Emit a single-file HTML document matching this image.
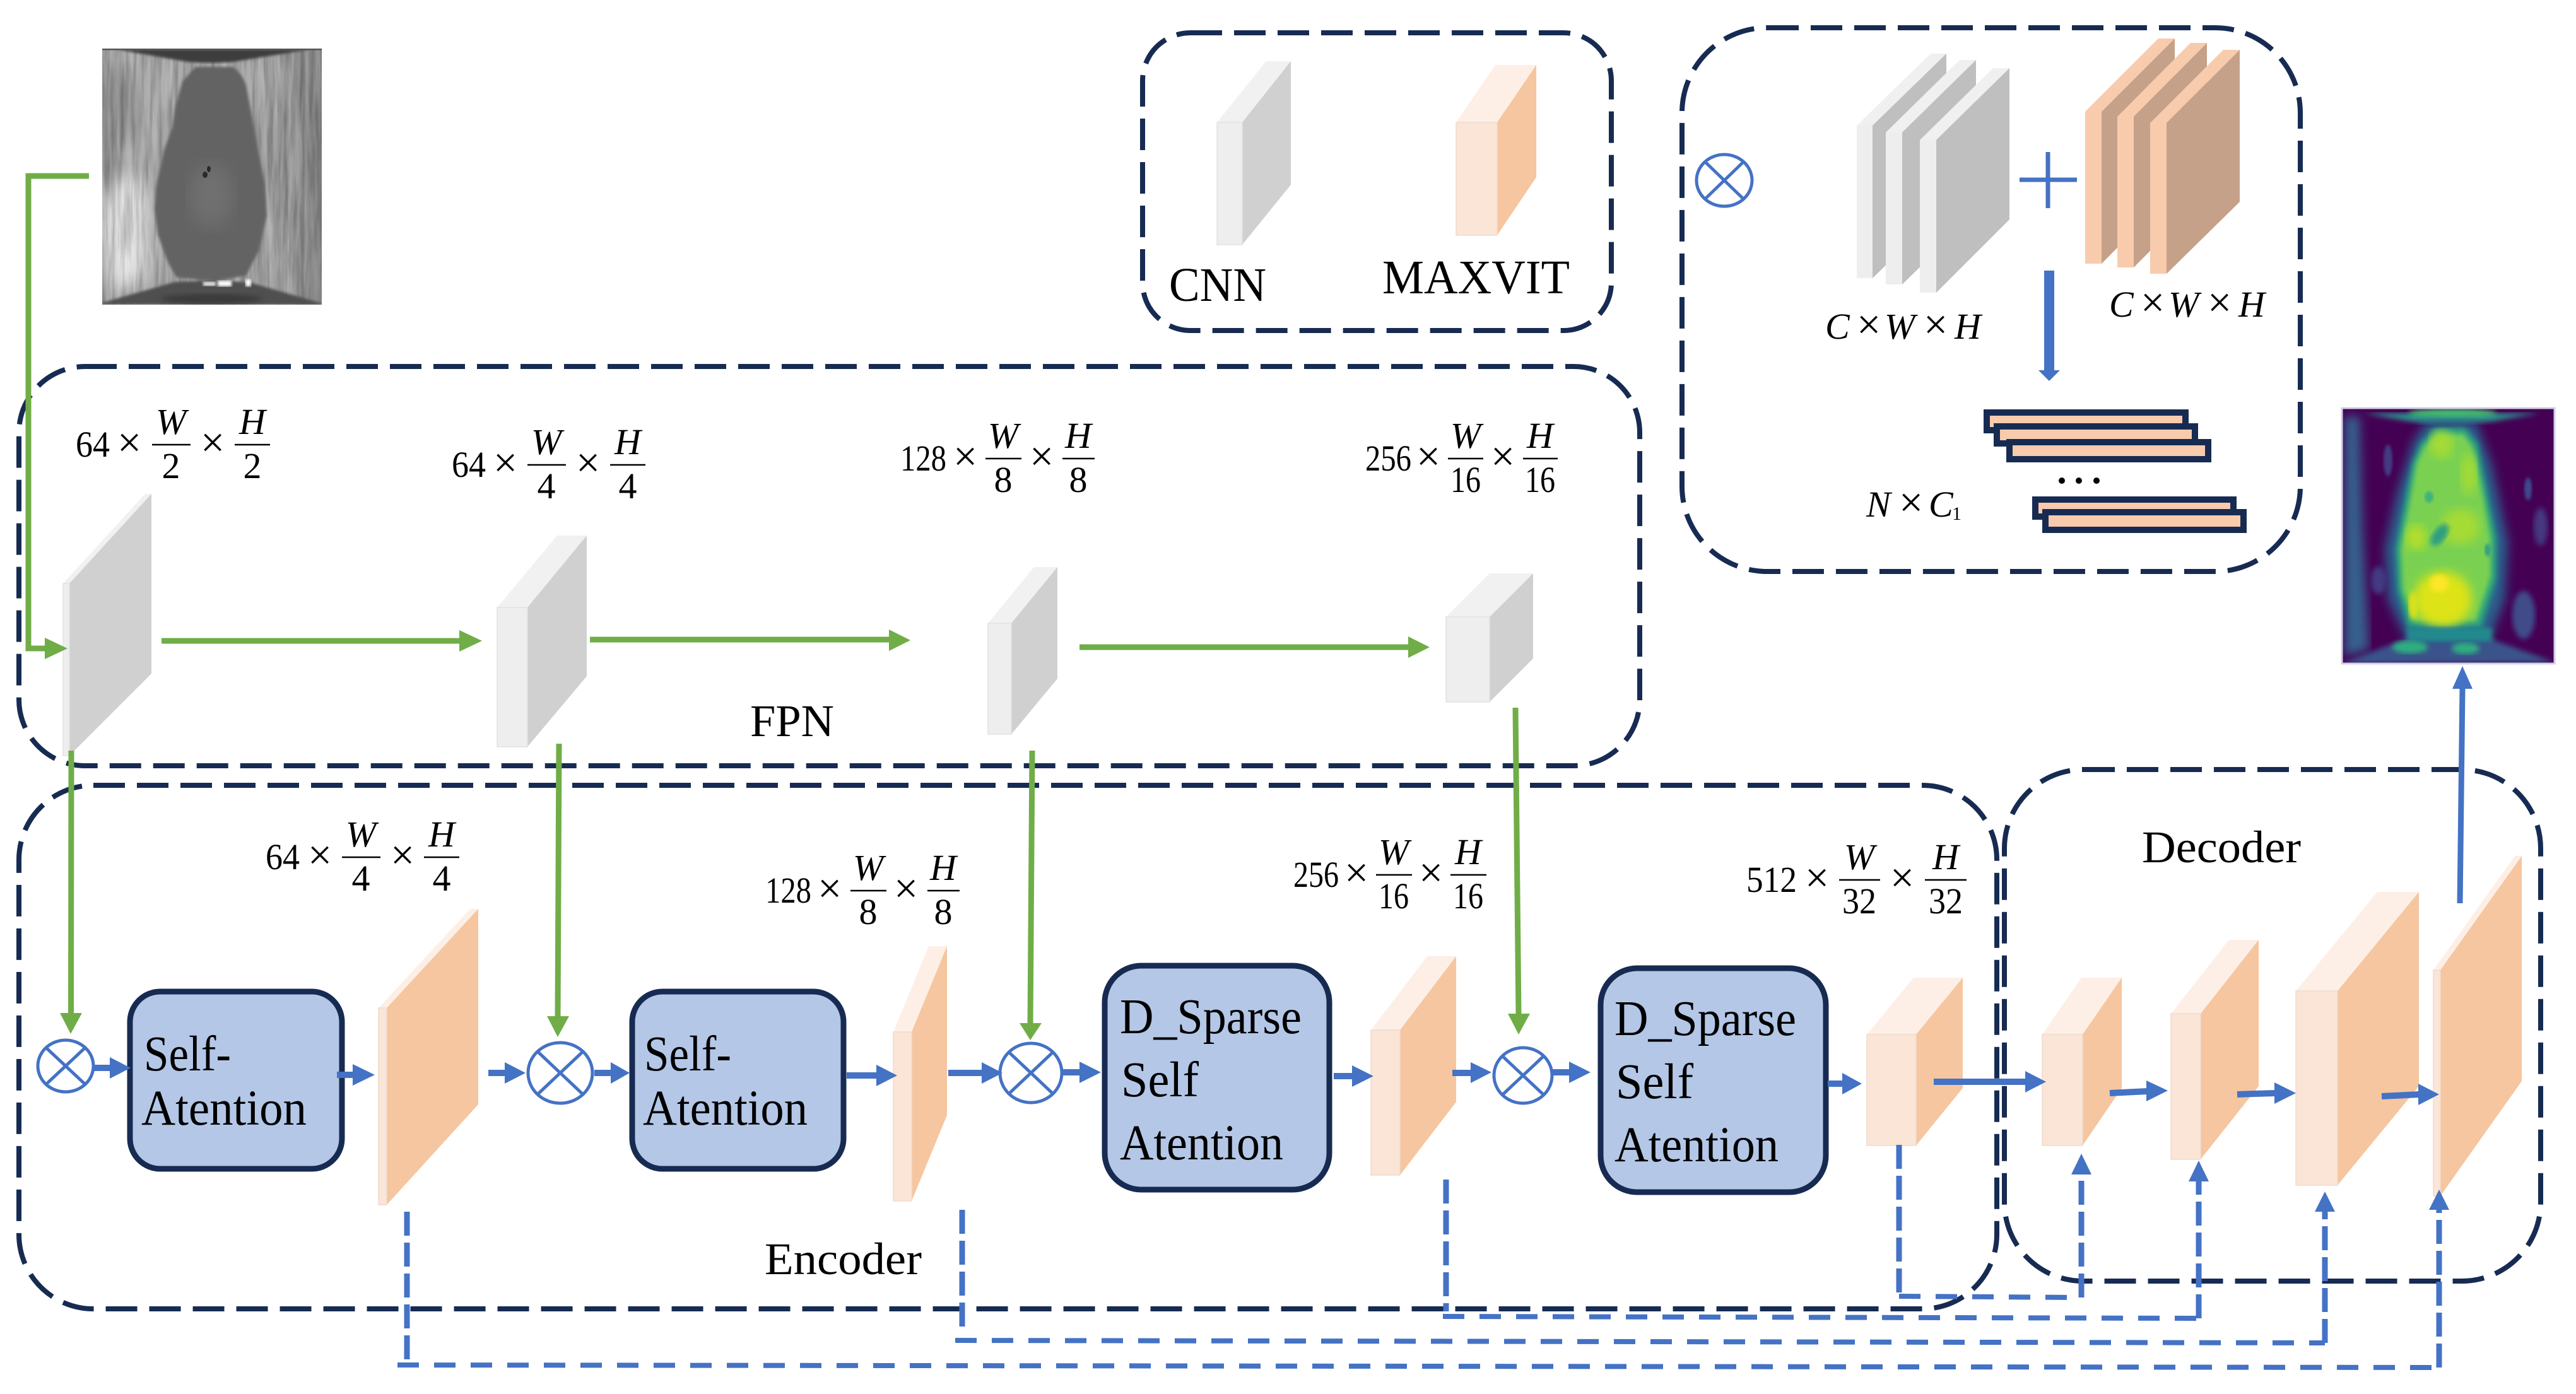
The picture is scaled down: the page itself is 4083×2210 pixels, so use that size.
<!DOCTYPE html>
<html><head><meta charset="utf-8"><style>
html,body{margin:0;padding:0;background:#fff}
svg{display:block}
text{font-family:"Liberation Serif",serif;fill:#000}
.d{fill:none;stroke:#172b52;stroke-width:8;stroke-dasharray:50 19}
.g{fill:none;stroke:#70ad47;stroke-width:9}
.gh{fill:#70ad47}
.b{fill:none;stroke:#4472c4;stroke-width:10}
.bh{fill:#4472c4}
.bv{fill:none;stroke:#4472c4;stroke-width:9;stroke-dasharray:38 11}
.bz{fill:none;stroke:#4472c4;stroke-width:8;stroke-dasharray:34 24}
.x{fill:#fff;stroke:#4472c4;stroke-width:5}
.xl{stroke:#4472c4;stroke-width:5}
.box{fill:#b4c7e7;stroke:#172b52;stroke-width:9}
.t{font-size:79px}
.l{font-size:72px}
.m{font-size:58px}
.mx{font-size:68px}
.i{font-size:58px;font-style:italic}
.bar{stroke:#000;stroke-width:2.5}
.tok{fill:#f8cbad;stroke:#172b52;stroke-width:10}
.gf{fill:#eeeeee;stroke:#e2e2e2;stroke-width:1.5}.gt{fill:#f1f1f1}.gs{fill:#d0d0d0}
.of{fill:#fbe5d6;stroke:#eedccf;stroke-width:1.5}.ot{fill:#fdefe6}.os{fill:#f5c6a0}
.pgf{fill:#eeeeee}.pgs{fill:#bfbfbf}.pgt{fill:#f0f0f0}
.pof{fill:#f8cbad}.pos{fill:#c5a189}
</style></head><body>
<svg width="4083" height="2210" viewBox="0 0 4083 2210" xmlns="http://www.w3.org/2000/svg">
<defs>
<filter id="b2"><feGaussianBlur stdDeviation="2"/></filter>
<filter id="b4"><feGaussianBlur stdDeviation="4"/></filter>
<filter id="b8"><feGaussianBlur stdDeviation="8"/></filter>
<filter id="b14"><feGaussianBlur stdDeviation="14"/></filter>
<filter id="st" x="0" y="0" width="100%" height="100%"><feTurbulence type="fractalNoise" baseFrequency="0.09 0.006" numOctaves="3" seed="4"/><feColorMatrix type="matrix" values="0 0 0 0 1  0 0 0 0 1  0 0 0 0 1  1.6 0 0 0 -0.6"/></filter>
<filter id="st2" x="0" y="0" width="100%" height="100%"><feTurbulence type="fractalNoise" baseFrequency="0.12 0.01" numOctaves="3" seed="9"/><feColorMatrix type="matrix" values="0 0 0 0 0  0 0 0 0 0  0 0 0 0 0  1.6 0 0 0 -0.6"/></filter>
<linearGradient id="ph" x1="0" x2="1" y1="0" y2="0">
<stop offset="0" stop-color="#8f8f8f"/><stop offset=".1" stop-color="#a8a8a8"/><stop offset=".3" stop-color="#a8a8a8"/><stop offset=".75" stop-color="#a0a0a0"/><stop offset="1" stop-color="#828282"/>
</linearGradient>
<clipPath id="c1"><rect x="162" y="77" width="348" height="406"/></clipPath>
<clipPath id="c2"><rect x="3712" y="647" width="337" height="405"/></clipPath>
</defs>
<rect width="4083" height="2210" fill="#fff"/>

<!-- input image -->
<g clip-path="url(#c1)">
<rect x="162" y="77" width="348" height="406" fill="url(#ph)"/>
<ellipse cx="200" cy="370" rx="42" ry="90" fill="#e0e0e0" filter="url(#b14)"/>
<ellipse cx="190" cy="170" rx="28" ry="60" fill="#8a8a8a" filter="url(#b14)"/>
<rect x="162" y="77" width="348" height="406" filter="url(#st)" opacity=".35"/>
<rect x="162" y="77" width="348" height="406" filter="url(#st2)" opacity=".3"/>
<path d="M310,106 L370,106 C380,115 387,125 390,135 L397,172 L407,225 L420,292 L423,342 L410,398 L390,437 L340,446 L280,440 L267,418 L250,372 L245,332 L247,298 L260,238 L273,202 L278,168 L290,128Z" fill="#636363" filter="url(#b2)"/>
<ellipse cx="335" cy="310" rx="35" ry="50" fill="#6f6f6f" filter="url(#b14)"/>
<ellipse cx="325" cy="277" rx="4" ry="5" fill="#2a2a2a"/><ellipse cx="331" cy="268" rx="3" ry="5" fill="#2a2a2a"/>
<path d="M183,78 L493,78 L370,98 C350,100 320,100 297,98Z" fill="#3e3e3e" filter="url(#b2)"/>
<rect x="162" y="77" width="348" height="2.5" fill="#555"/>
<path d="M162,483 L162,480 L277,447 Q340,443 397,448 L510,481 L510,483Z" fill="#505050" filter="url(#b2)"/>
<ellipse cx="335" cy="474" rx="80" ry="8" fill="#3a3a3a" filter="url(#b4)"/>
<rect x="322" y="447" width="20" height="6" fill="#f2f2f2" filter="url(#b2)"/><rect x="345" y="445" width="22" height="9" fill="#fff" filter="url(#b2)"/><rect x="389" y="443" width="9" height="11" fill="#fff" filter="url(#b2)"/>
</g>

<!-- output heatmap -->
<g clip-path="url(#c2)">
<rect x="3712" y="647" width="337" height="405" fill="#440154"/>
<path d="M3716,660 L3740,660 L3745,840 L3755,1030 L3716,1040Z" fill="#34618d" filter="url(#b8)"/>
<path d="M3712,1052 L3815,1012 L3945,1012 L4049,1050Z" fill="#3b528b" filter="url(#b4)"/>
<path d="M3745,655 L4025,655 L3950,668 L3910,672 L3850,672 L3820,668Z" fill="#2a8f8a" filter="url(#b4)"/>
<ellipse cx="3887" cy="655" rx="70" ry="7" fill="#44bf70" filter="url(#b4)"/>
<path d="M3845,670 L3925,670 L3950,740 L3975,860 L3970,950 L3945,1015 L3815,1015 L3785,950 L3780,870 L3800,780 L3825,700Z" fill="#2c5f8c" filter="url(#b8)"/>
<path d="M3860,678 L3907,678 L3927,702 L3940,768 L3957,852 L3957,918 L3933,995 L3817,995 L3800,935 L3797,868 L3810,802 L3823,735 L3837,702Z" fill="#2ba07f" filter="url(#b4)"/>
<path d="M3862,688 L3905,688 L3920,710 L3933,770 L3948,852 L3948,915 L3925,985 L3825,985 L3808,935 L3805,868 L3818,802 L3830,735 L3842,708Z" fill="#7ad151" filter="url(#b4)"/>
<ellipse cx="3913" cy="752" rx="12" ry="32" fill="#a5db36" filter="url(#b8)"/>
<ellipse cx="3870" cy="705" rx="18" ry="22" fill="#a5db36" filter="url(#b8)"/>
<ellipse cx="3900" cy="835" rx="30" ry="28" fill="#a5db36" filter="url(#b8)"/>
<ellipse cx="3830" cy="852" rx="16" ry="20" fill="#b5de2b" filter="url(#b8)"/>
<ellipse cx="3872" cy="950" rx="46" ry="44" fill="#dde318" filter="url(#b8)"/>
<ellipse cx="3825" cy="960" rx="7" ry="22" fill="#dde318" filter="url(#b4)"/>
<ellipse cx="3866" cy="925" rx="15" ry="14" fill="#fde725" filter="url(#b4)"/>
<ellipse cx="3867" cy="848" rx="10" ry="20" transform="rotate(35 3867 848)" fill="#2f9e80" filter="url(#b4)"/>
<ellipse cx="3850" cy="788" rx="7" ry="9" fill="#40b27a" filter="url(#b2)"/>
<ellipse cx="3943" cy="872" rx="5" ry="10" fill="#35a07f" filter="url(#b2)"/>
<rect x="3815" y="995" width="135" height="22" fill="#238a8d" filter="url(#b4)"/>
<ellipse cx="3820" cy="1026" rx="28" ry="10" fill="#2fae80" filter="url(#b4)"/>
<ellipse cx="3908" cy="1028" rx="22" ry="9" fill="#2fae80" filter="url(#b4)"/>
<ellipse cx="4007" cy="775" rx="6" ry="18" fill="#3e4a89" filter="url(#b2)"/>
<ellipse cx="4027" cy="835" rx="11" ry="30" fill="#453781" filter="url(#b4)"/>
<ellipse cx="4000" cy="975" rx="18" ry="38" fill="#3f4b8a" filter="url(#b4)"/>
<ellipse cx="3770" cy="920" rx="12" ry="22" fill="#433a83" filter="url(#b4)"/>
<ellipse cx="3785" cy="730" rx="7" ry="25" fill="#433a83" filter="url(#b2)"/>
</g>
<rect x="3712" y="647" width="337" height="405" fill="none" stroke="#d3cfe4" stroke-width="3"/>

<!-- dashed containers -->
<rect class="d" x="30" y="581" width="2569" height="633" rx="105" ry="105"/>
<rect class="d" x="1811" y="52" width="743" height="472" rx="76" ry="76"/>
<rect class="d" x="2666" y="44" width="980" height="862" rx="135" ry="135"/>
<rect class="d" x="30" y="1245" width="3135" height="830" rx="118" ry="118"/>
<rect class="d" x="3177" y="1220" width="850" height="811" rx="125" ry="125"/>

<!-- FPN cuboids -->
<polygon class="gt" points="100,925 110,925 240,783 230,783"/><polygon class="gs" points="110,925 240,783 240,1068 110,1198"/><rect class="gf" x="100" y="925" width="10" height="273"/>
<polygon class="gt" points="788,963 836,963 930,849 883,849"/><polygon class="gs" points="836,963 930,849 930,1072 836,1184"/><rect class="gf" x="788" y="963" width="48" height="221"/>
<polygon class="gt" points="1566,988 1603,988 1676,899 1639,899"/><polygon class="gs" points="1603,988 1676,899 1676,1076 1603,1164"/><rect class="gf" x="1566" y="988" width="37" height="176"/>
<polygon class="gt" points="2292,978 2361,978 2430,909 2361,909"/><polygon class="gs" points="2361,978 2430,909 2430,1044 2361,1113"/><rect class="gf" x="2292" y="978" width="69" height="135"/>

<!-- legend cuboids -->
<polygon class="gt" points="1929,194 1969,194 2046,97 2007,97"/><polygon class="gs" points="1969,194 2046,97 2046,293 1969,388"/><rect class="gf" x="1929" y="194" width="40" height="194"/>
<polygon class="ot" points="2308,194 2373,194 2435,103 2370,103"/><polygon class="os" points="2373,194 2435,103 2435,281 2373,373"/><rect class="of" x="2308" y="194" width="65" height="179"/>
<text x="1853" y="477" class="l" textLength="154" lengthAdjust="spacingAndGlyphs" style="font-size:76px">CNN</text>
<text x="2191" y="465" class="l" textLength="297" lengthAdjust="spacingAndGlyphs" style="font-size:76px">MAXVIT</text>

<!-- stacked plates -->
<polygon class="pgt" points="2943,199 2968,199 3085,85 3060,85"/><polygon class="pgs" points="2968,199 3085,85 3085,327 2968,441"/><rect class="pgf" x="2943" y="199" width="25" height="242"/>
<polygon class="pgt" points="2989,210 3015,210 3132,95 3106,95"/><polygon class="pgs" points="3015,210 3132,95 3132,336 3015,451"/><rect class="pgf" x="2989" y="210" width="26" height="241"/>
<polygon class="pgt" points="3043,222 3069,222 3185,108 3159,108"/><polygon class="pgs" points="3069,222 3185,108 3185,348 3069,464"/><rect class="pgf" x="3043" y="222" width="26" height="242"/>
<polygon class="pof" points="3305,177 3331,177 3447,61 3421,61"/><polygon class="pos" points="3331,177 3447,61 3447,301 3331,418"/><rect class="pof" x="3305" y="177" width="26" height="241"/>
<polygon class="pof" points="3356,185 3382,185 3498,68 3472,68"/><polygon class="pos" points="3382,185 3498,68 3498,307 3382,424"/><rect class="pof" x="3356" y="185" width="26" height="239"/>
<polygon class="pof" points="3408,195 3434,195 3550,79 3524,79"/><polygon class="pos" points="3434,195 3550,79 3550,320 3434,434"/><rect class="pof" x="3408" y="195" width="26" height="239"/>
<path d="M3201,285H3292M3246,241V330" stroke="#4472c4" stroke-width="7" fill="none"/>
<ellipse class="x" cx="2733" cy="286" rx="44" ry="41"/><path class="xl" d="M2703,257L2763,315M2763,257L2703,315"/>
<rect x="3240" y="429" width="16" height="160" class="bh"/><polygon class="bh" points="3231,587 3265,587 3248,604"/>
<text class="i" x="2893" y="537">C</text><text class="mx" x="2962" y="537" text-anchor="middle">×</text><text class="i" x="2987" y="537">W</text><text class="mx" x="3068" y="537" text-anchor="middle">×</text><text class="i" x="3098" y="537">H</text>
<text class="i" x="3343" y="502">C</text><text class="mx" x="3412" y="502" text-anchor="middle">×</text><text class="i" x="3437" y="502">W</text><text class="mx" x="3518" y="502" text-anchor="middle">×</text><text class="i" x="3548" y="502">H</text>
<text class="i" x="2958" y="819">N</text><text class="mx" x="3029" y="819" text-anchor="middle">×</text><text class="i" x="3057" y="819">C</text><text x="3094" y="824" style="font-size:30px">1</text>
<rect class="tok" x="3149" y="654" width="315" height="28"/>
<rect class="tok" x="3165" y="676" width="314" height="27"/>
<rect class="tok" x="3185" y="701" width="315" height="27"/>
<circle cx="3268" cy="762" r="5"/><circle cx="3295" cy="762" r="5"/><circle cx="3323" cy="762" r="5"/>
<rect class="tok" x="3226" y="792" width="314" height="27"/>
<rect class="tok" x="3242" y="812" width="314" height="28"/>

<!-- Math labels -->
<g>
<text class="m" x="120" y="724" textLength="54" lengthAdjust="spacingAndGlyphs">64</text><text class="mx" x="205" y="724" text-anchor="middle">×</text>
<line class="bar" x1="241" x2="302" y1="705" y2="705"/><text class="i" x="271" y="688" text-anchor="middle">W</text><text class="m" x="271" y="758" text-anchor="middle">2</text>
<text class="mx" x="337" y="724" text-anchor="middle">×</text>
<line class="bar" x1="372" x2="428" y1="705" y2="705"/><text class="i" x="400" y="688" text-anchor="middle">H</text><text class="m" x="400" y="758" text-anchor="middle">2</text>
</g>
<g>
<text class="m" x="716" y="756" textLength="54" lengthAdjust="spacingAndGlyphs">64</text><text class="mx" x="801" y="756" text-anchor="middle">×</text>
<line class="bar" x1="836" x2="897" y1="737" y2="737"/><text class="i" x="866" y="720" text-anchor="middle">W</text><text class="m" x="866" y="790" text-anchor="middle">4</text>
<text class="mx" x="932" y="756" text-anchor="middle">×</text>
<line class="bar" x1="967" x2="1023" y1="737" y2="737"/><text class="i" x="995" y="720" text-anchor="middle">H</text><text class="m" x="995" y="790" text-anchor="middle">4</text>
</g>
<g>
<text class="m" x="1427" y="746" textLength="73" lengthAdjust="spacingAndGlyphs">128</text><text class="mx" x="1530" y="746" text-anchor="middle">×</text>
<line class="bar" x1="1562" x2="1619" y1="727" y2="727"/><text class="i" x="1590" y="710" text-anchor="middle">W</text><text class="m" x="1590" y="780" text-anchor="middle">8</text>
<text class="mx" x="1651" y="746" text-anchor="middle">×</text>
<line class="bar" x1="1684" x2="1735" y1="727" y2="727"/><text class="i" x="1709" y="710" text-anchor="middle">H</text><text class="m" x="1709" y="780" text-anchor="middle">8</text>
</g>
<g>
<text class="m" x="2164" y="746" textLength="73" lengthAdjust="spacingAndGlyphs">256</text><text class="mx" x="2264" y="746" text-anchor="middle">×</text>
<line class="bar" x1="2295" x2="2351" y1="727" y2="727"/><text class="i" x="2323" y="710" text-anchor="middle">W</text><text class="m" x="2323" y="780" text-anchor="middle" textLength="48" lengthAdjust="spacingAndGlyphs">16</text>
<text class="mx" x="2382" y="746" text-anchor="middle">×</text>
<line class="bar" x1="2414" x2="2469" y1="727" y2="727"/><text class="i" x="2441" y="710" text-anchor="middle">H</text><text class="m" x="2441" y="780" text-anchor="middle" textLength="48" lengthAdjust="spacingAndGlyphs">16</text>
</g>
<g>
<text class="m" x="421" y="1378" textLength="54" lengthAdjust="spacingAndGlyphs">64</text><text class="mx" x="507" y="1378" text-anchor="middle">×</text>
<line class="bar" x1="542" x2="603" y1="1359" y2="1359"/><text class="i" x="572" y="1342" text-anchor="middle">W</text><text class="m" x="572" y="1412" text-anchor="middle">4</text>
<text class="mx" x="638" y="1378" text-anchor="middle">×</text>
<line class="bar" x1="672" x2="728" y1="1359" y2="1359"/><text class="i" x="700" y="1342" text-anchor="middle">H</text><text class="m" x="700" y="1412" text-anchor="middle">4</text>
</g>
<g>
<text class="m" x="1213" y="1431" textLength="73" lengthAdjust="spacingAndGlyphs">128</text><text class="mx" x="1315" y="1431" text-anchor="middle">×</text>
<line class="bar" x1="1348" x2="1405" y1="1412" y2="1412"/><text class="i" x="1376" y="1395" text-anchor="middle">W</text><text class="m" x="1376" y="1465" text-anchor="middle">8</text>
<text class="mx" x="1436" y="1431" text-anchor="middle">×</text>
<line class="bar" x1="1470" x2="1521" y1="1412" y2="1412"/><text class="i" x="1495" y="1395" text-anchor="middle">H</text><text class="m" x="1495" y="1465" text-anchor="middle">8</text>
</g>
<g>
<text class="m" x="2050" y="1406" textLength="72" lengthAdjust="spacingAndGlyphs">256</text><text class="mx" x="2150" y="1406" text-anchor="middle">×</text>
<line class="bar" x1="2181" x2="2238" y1="1387" y2="1387"/><text class="i" x="2209" y="1370" text-anchor="middle">W</text><text class="m" x="2209" y="1440" text-anchor="middle" textLength="48" lengthAdjust="spacingAndGlyphs">16</text>
<text class="mx" x="2268" y="1406" text-anchor="middle">×</text>
<line class="bar" x1="2299" x2="2356" y1="1387" y2="1387"/><text class="i" x="2327" y="1370" text-anchor="middle">H</text><text class="m" x="2327" y="1440" text-anchor="middle" textLength="48" lengthAdjust="spacingAndGlyphs">16</text>
</g>
<g>
<text class="m" x="2768" y="1414" textLength="80" lengthAdjust="spacingAndGlyphs">512</text><text class="mx" x="2880" y="1414" text-anchor="middle">×</text>
<line class="bar" x1="2915" x2="2980" y1="1395" y2="1395"/><text class="i" x="2947" y="1378" text-anchor="middle">W</text><text class="m" x="2947" y="1448" text-anchor="middle" textLength="54" lengthAdjust="spacingAndGlyphs">32</text>
<text class="mx" x="3015" y="1414" text-anchor="middle">×</text>
<line class="bar" x1="3051" x2="3117" y1="1395" y2="1395"/><text class="i" x="3084" y="1378" text-anchor="middle">H</text><text class="m" x="3084" y="1448" text-anchor="middle" textLength="54" lengthAdjust="spacingAndGlyphs">32</text>
</g>

<!-- encoder/decoder cuboids -->
<polygon class="ot" points="600,1598 613,1598 758,1441 745,1441"/><polygon class="os" points="613,1598 758,1441 758,1751 613,1910"/><rect class="of" x="600" y="1598" width="13" height="312"/>
<polygon class="ot" points="1416,1636 1445,1636 1501,1500 1472,1500"/><polygon class="os" points="1445,1636 1501,1500 1501,1768 1445,1904"/><rect class="of" x="1416" y="1636" width="29" height="268"/>
<polygon class="ot" points="2173,1633 2219,1633 2308,1516 2262,1516"/><polygon class="os" points="2219,1633 2308,1516 2308,1747 2219,1863"/><rect class="of" x="2173" y="1633" width="46" height="230"/>
<polygon class="ot" points="2959,1640 3037,1640 3111,1550 3033,1550"/><polygon class="os" points="3037,1640 3111,1550 3111,1725 3037,1816"/><rect class="of" x="2959" y="1640" width="78" height="176"/>
<polygon class="ot" points="3237,1640 3301,1640 3363,1550 3299,1550"/><polygon class="os" points="3301,1640 3363,1550 3363,1725 3301,1816"/><rect class="of" x="3237" y="1640" width="64" height="176"/>
<polygon class="ot" points="3441,1607 3488,1607 3580,1490 3533,1490"/><polygon class="os" points="3488,1607 3580,1490 3580,1722 3488,1838"/><rect class="of" x="3441" y="1607" width="47" height="231"/>
<polygon class="ot" points="3639,1571 3705,1571 3834,1414 3768,1414"/><polygon class="os" points="3705,1571 3834,1414 3834,1722 3705,1879"/><rect class="of" x="3639" y="1571" width="66" height="308"/>
<polygon class="ot" points="3857,1538 3868,1538 3997,1357 3986,1357"/><polygon class="os" points="3868,1538 3997,1357 3997,1714 3868,1896"/><rect class="of" x="3857" y="1538" width="11" height="358"/>

<!-- green connectors -->
<path class="g" d="M141,279H45V1028H75"/><polygon class="gh" points="71,1011 107,1028 71,1045"/>
<path class="g" d="M256,1016H730"/><polygon class="gh" points="728,999 764,1016 728,1033"/>
<path class="g" d="M935,1014H1412"/><polygon class="gh" points="1409,998 1443,1015 1409,1032"/>
<path class="g" d="M1711,1026H2235"/><polygon class="gh" points="2232,1009 2266,1026 2232,1043"/>
<path class="g" d="M113,1190L112.5,1610"/><polygon class="gh" points="95,1606 130,1606 112,1639"/>
<path class="g" d="M886,1179L884,1615"/><polygon class="gh" points="867,1611 902,1611 884,1644"/>
<path class="g" d="M1636,1190L1633,1625"/><polygon class="gh" points="1616,1622 1651,1622 1633,1649"/>
<path class="g" d="M2402,1122L2407,1610"/><polygon class="gh" points="2390,1607 2425,1607 2407,1640"/>

<!-- operator circles -->
<ellipse class="x" cx="104" cy="1690" rx="44" ry="41"/><path class="xl" d="M73,1661L135,1719M135,1661L73,1719"/>
<ellipse class="x" cx="888" cy="1701" rx="51" ry="48"/><path class="xl" d="M852,1667L924,1735M924,1667L852,1735"/>
<ellipse class="x" cx="1634" cy="1701" rx="49" ry="47"/><path class="xl" d="M1599,1668L1669,1734M1669,1668L1599,1734"/>
<ellipse class="x" cx="2414" cy="1705" rx="46" ry="44"/><path class="xl" d="M2381,1674L2447,1736M2447,1674L2381,1736"/>

<!-- attention boxes -->
<rect class="box" x="206" y="1572" width="336" height="281" rx="48" ry="48"/>
<rect class="box" x="1002" y="1572" width="335" height="281" rx="48" ry="48"/>
<rect class="box" x="1751" y="1531" width="356" height="355" rx="58" ry="58"/>
<rect class="box" x="2537" y="1535" width="357" height="355" rx="58" ry="58"/>
<text class="t" x="228" y="1697" textLength="138" lengthAdjust="spacingAndGlyphs">Self-</text>
<text class="t" x="224" y="1783" textLength="262" lengthAdjust="spacingAndGlyphs">Atention</text>
<text class="t" x="1021" y="1697" textLength="138" lengthAdjust="spacingAndGlyphs">Self-</text>
<text class="t" x="1019" y="1783" textLength="261" lengthAdjust="spacingAndGlyphs">Atention</text>
<text class="t" x="1775" y="1638" textLength="288" lengthAdjust="spacingAndGlyphs">D_Sparse</text>
<text class="t" x="1777" y="1738" textLength="123" lengthAdjust="spacingAndGlyphs">Self</text>
<text class="t" x="1775" y="1838" textLength="259" lengthAdjust="spacingAndGlyphs">Atention</text>
<text class="t" x="2559" y="1641" textLength="288" lengthAdjust="spacingAndGlyphs">D_Sparse</text>
<text class="t" x="2561" y="1741" textLength="123" lengthAdjust="spacingAndGlyphs">Self</text>
<text class="t" x="2559" y="1841" textLength="260" lengthAdjust="spacingAndGlyphs">Atention</text>

<text class="l" x="1189" y="1167" textLength="133" lengthAdjust="spacingAndGlyphs">FPN</text>
<text class="l" x="1212" y="2020" textLength="249" lengthAdjust="spacingAndGlyphs">Encoder</text>
<text class="l" x="3395" y="1367" textLength="252" lengthAdjust="spacingAndGlyphs">Decoder</text>

<!-- blue solid connectors -->
<path class="b" d="M147,1693H176"/><polygon class="bh" points="174,1676 207,1693 174,1710"/>
<path class="b" d="M534,1704H561"/><polygon class="bh" points="559,1687 594,1704 559,1721"/>
<path class="b" d="M774,1701H802"/><polygon class="bh" points="800,1684 833,1701 800,1718"/>
<path class="b" d="M942,1701H970"/><polygon class="bh" points="968,1684 998,1701 968,1718"/>
<path class="b" d="M1342,1705H1391"/><polygon class="bh" points="1389,1688 1422,1705 1389,1722"/>
<path class="b" d="M1503,1701H1558"/><polygon class="bh" points="1556,1684 1589,1701 1556,1718"/>
<path class="b" d="M1684,1700H1713"/><polygon class="bh" points="1711,1683 1745,1700 1711,1717"/>
<path class="b" d="M2114,1706H2145"/><polygon class="bh" points="2143,1689 2177,1706 2143,1723"/>
<path class="b" d="M2302,1701H2333"/><polygon class="bh" points="2331,1684 2364,1700 2331,1717"/>
<path class="b" d="M2461,1700H2489"/><polygon class="bh" points="2487,1683 2521,1700 2487,1717"/>
<path class="b" d="M2897,1718H2922"/><polygon class="bh" points="2920,1701 2951,1718 2920,1735"/>
<path class="b" d="M3065,1715H3212"/><polygon class="bh" points="3210,1698 3243,1715 3210,1732"/>
<path class="b" d="M3344,1733L3404,1730"/><polygon class="bh" points="3402,1713 3436,1729 3402,1746"/>
<path class="b" d="M3546,1735L3607,1733"/><polygon class="bh" points="3605,1716 3639,1733 3605,1750"/>
<path class="b" d="M3775,1738L3835,1735"/><polygon class="bh" points="3833,1718 3866,1735 3833,1752"/>
<path class="b" style="stroke-width:9" d="M3899,1432L3903,1090"/><polygon class="bh" points="3887,1092 3919,1092 3903,1056"/>

<!-- blue dashed connectors -->
<path class="bv" d="M645,1921V2160"/><path class="bz" d="M630,2164L3866,2168"/><path class="bv" d="M3866,2168V1916"/><polygon class="bh" points="3850,1918 3882,1918 3866,1886"/>
<path class="bv" d="M1525,1918V2111"/><path class="bz" d="M1514,2125L3685,2129"/><path class="bv" d="M3685,2129V1919"/><polygon class="bh" points="3669,1921 3701,1921 3685,1889"/>
<path class="bv" d="M2292,1870V2079"/><path class="bz" d="M2287,2087L3485,2090"/><path class="bv" d="M3485,2090V1871"/><polygon class="bh" points="3469,1873 3501,1873 3485,1840"/>
<path class="bv" d="M3010,1815V2055"/><path class="bz" d="M3010,2055L3299,2057"/><path class="bv" d="M3299,2057V1860"/><polygon class="bh" points="3283,1862 3315,1862 3299,1829"/>
</svg>
</body></html>
